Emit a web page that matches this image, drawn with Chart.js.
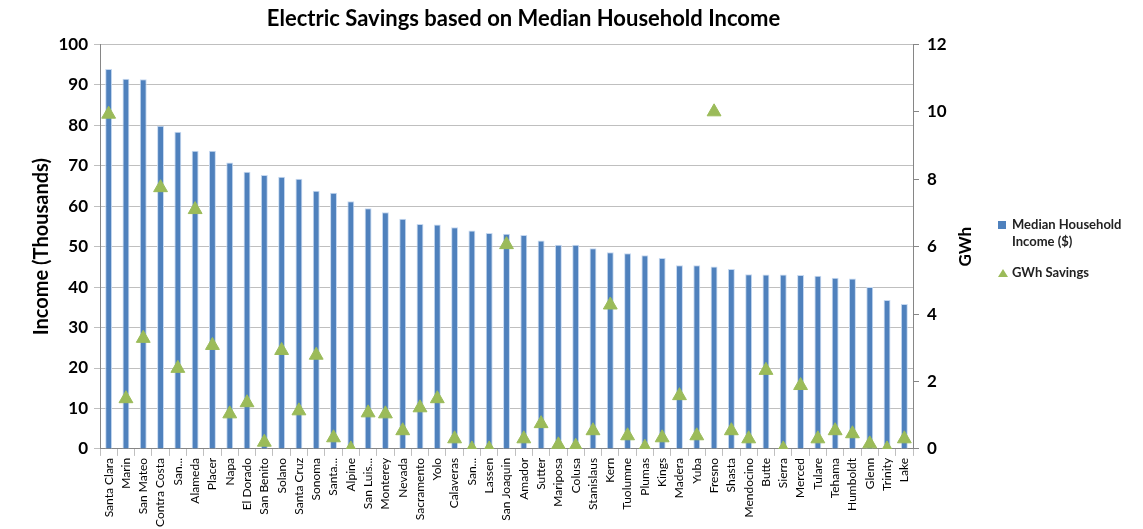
<!DOCTYPE html>
<html>
<head>
<meta charset="utf-8">
<script src="https://cdn.jsdelivr.net/npm/chart.js@4.4.1/dist/chart.umd.min.js"></script>
<style>
  body { margin: 0; background: #fff; font-family: Lato, "Open Sans", sans-serif; }
  #wrap { position: relative; width: 1143px; height: 529px; }
  #legend { position: absolute; left: 998px; top: 216px; font-size: 13px; font-weight: bold; color: #222; line-height: 17px; }
  #legend .item { display: flex; align-items: flex-start; margin-bottom: 14px; }
  #legend .sq { width: 8px; height: 8px; background: #4F81BD; margin: 5px 6px 0 0; flex: none; }
  #legend .tri { width: 0; height: 0; border-left: 5px solid transparent; border-right: 5px solid transparent; border-bottom: 8px solid #9BBB59; margin: 5px 4px 0 0; flex: none; }
</style>
</head>
<body>
<div id="wrap">
  <canvas id="chart"></canvas>
  <div id="legend">
    <div class="item"><span class="sq"></span><span>Median Household<br>Income ($)</span></div>
    <div class="item"><span class="tri"></span><span>GWh Savings</span></div>
  </div>
</div>
<script>
const counties = ["Santa Clara", "Marin", "San Mateo", "Contra Costa", "San...", "Alameda", "Placer", "Napa", "El Dorado", "San Benito",
  "Solano", "Santa Cruz", "Sonoma", "Santa...", "Alpine", "San Luis...", "Monterey", "Nevada", "Sacramento", "Yolo",
  "Calaveras", "San...", "Lassen", "San Joaquin", "Amador", "Sutter", "Mariposa", "Colusa", "Stanislaus", "Kern",
  "Tuolumne", "Plumas", "Kings", "Madera", "Yuba", "Fresno", "Shasta", "Mendocino", "Butte", "Sierra",
  "Merced", "Tulare", "Tehama", "Humboldt", "Glenn", "Trinity", "Lake"];

// median household income, thousands of dollars
const income = [93.9, 91.5, 91.4, 79.9, 78.4, 73.7, 73.7, 70.8, 68.5, 67.7,
  67.3, 66.8, 63.8, 63.3, 61.2, 59.5, 58.5, 56.9, 55.6, 55.5,
  54.8, 54.0, 53.4, 53.2, 52.9, 51.5, 50.5, 50.5, 49.6, 48.6,
  48.4, 47.9, 47.2, 45.4, 45.4, 45.1, 44.5, 43.2, 43.1, 43.1,
  43.0, 42.8, 42.3, 42.1, 40.0, 36.8, 35.8];

// GWh savings
const gwh = [9.93, 1.49, 3.28, 7.75, 2.39, 7.1, 3.07, 1.04, 1.37, 0.2,
  2.92, 1.13, 2.78, 0.33, 0.0, 1.07, 1.04, 0.54, 1.22, 1.49,
  0.3, 0.0, 0.0, 6.06, 0.3, 0.75, 0.12, 0.08, 0.54, 4.27,
  0.39, 0.05, 0.33, 1.58, 0.39, 10.0, 0.54, 0.3, 2.33, 0.0,
  1.88, 0.3, 0.54, 0.45, 0.15, 0.0, 0.3];

const leftTicks = [0, 10, 20, 30, 40, 50, 60, 70, 80, 90, 100];
const rightTicks = [0, 2, 4, 6, 8, 10, 12];

const gridGrey = "#BFBFBF";
const axisGrey = "#868686";
const tickFont = { family: "Lato", size: 17, weight: "bold" };

// right axis title reads bottom-to-top like the original
const rightTitle = {
  id: "rightTitle",
  afterDraw(chart) {
    const s = chart.scales.y1;
    const ctx = chart.ctx;
    ctx.save();
    ctx.translate(s.left + 53, (s.top + s.bottom) / 2);
    ctx.rotate(-Math.PI / 2);
    ctx.font = "bold 17px Lato";
    ctx.fillStyle = "#000";
    ctx.textAlign = "center";
    ctx.textBaseline = "middle";
    ctx.fillText("GWh", 0, 0);
    ctx.restore();
  }
};

new Chart(document.getElementById("chart"), {
  data: {
    labels: counties,
    datasets: [
      {
        type: "line",
        label: "GWh Savings",
        data: gwh,
        yAxisID: "y1",
        showLine: false,
        pointStyle: "triangle",
        pointRadius: 8,
        pointHoverRadius: 8,
        backgroundColor: "#9BBB59",
        borderColor: "#9BBB59",
        borderWidth: 1,
        order: 1,
      },
      {
        type: "bar",
        label: "Median Household Income ($)",
        data: income,
        yAxisID: "y",
        backgroundColor: "#4F81BD",
        borderColor: "#C6D9F1",
        borderWidth: { top: 1, left: 1, right: 1, bottom: 0 },
        barPercentage: 0.4,
        categoryPercentage: 1,
        order: 2,
      },
    ],
  },
  options: {
    responsive: true,
    maintainAspectRatio: false,
    animation: false,
    layout: { padding: { left: 30, right: 126, top: 0, bottom: 0 } },
    plugins: {
      legend: { display: false },
      tooltip: { enabled: false },
      title: {
        display: true,
        text: "Electric Savings based on Median Household Income",
        color: "#000",
        font: { family: "Lato", size: 22, weight: "bold" },
        padding: { top: 6, bottom: 12 },
      },
    },
    scales: {
      x: {
        grid: { offset: true, drawOnChartArea: false, color: gridGrey, tickLength: 7 },
        border: { color: axisGrey },
        ticks: {
          autoSkip: false,
          minRotation: 90,
          maxRotation: 90,
          color: "#000",
          font: { family: "Lato", size: 12 },
          padding: 2,
        },
      },
      y: {
        position: "left",
        min: 0,
        max: 100,
        afterBuildTicks: (s) => { s.ticks = leftTicks.map((v) => ({ value: v })); },
        afterFit: (s) => { s.width = 70; },
        grid: { color: gridGrey, tickLength: 6 },
        border: { color: axisGrey },
        ticks: { color: "#000", font: tickFont, padding: 6 },
        title: {
          display: true,
          text: "Income (Thousands)",
          color: "#000",
          font: { family: "Lato", size: 20, weight: "bold" },
          padding: { top: 0, bottom: 2 },
        },
      },
      y1: {
        position: "right",
        min: 0,
        max: 12,
        afterBuildTicks: (s) => { s.ticks = rightTicks.map((v) => ({ value: v })); },
        afterFit: (s) => { s.width = 104; },
        grid: { drawOnChartArea: false, color: axisGrey, tickLength: 6 },
        border: { color: axisGrey },
        ticks: { color: "#000", font: tickFont, padding: 8 },
      },
    },
  },
  plugins: [rightTitle],
});
</script>
</body>
</html>
